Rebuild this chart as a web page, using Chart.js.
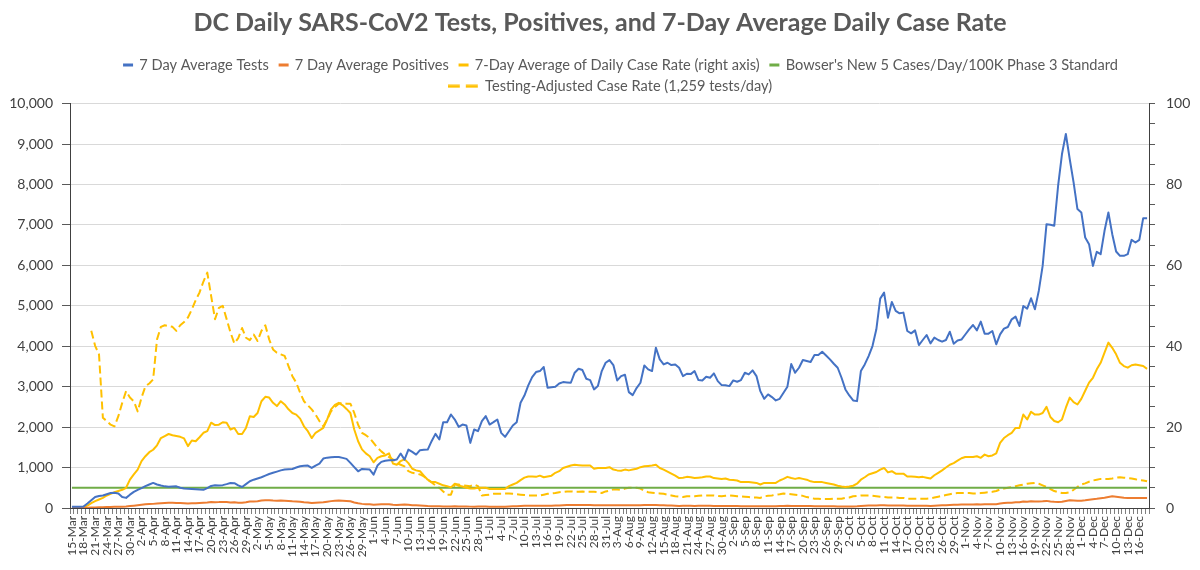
<!DOCTYPE html>
<html>
<head>
<meta charset="utf-8">
<title>DC Daily SARS-CoV2 Tests, Positives, and 7-Day Average Daily Case Rate</title>
<script src="https://cdn.jsdelivr.net/npm/chart.js@4.4.1/dist/chart.umd.min.js"></script>
<style>
    html, body { margin: 0; padding: 0; background: #ffffff; }
    #wrap { width: 1200px; height: 570px; }
</style>
</head>
<body>
<div id="wrap"><canvas id="dcChart" width="1200" height="570"></canvas></div>
<script>
/* =================================================================
   DC daily tests / positives / case rate, 15-Mar .. 18-Dec
   ================================================================= */

// Category labels: one per day, 15-Mar to 18-Dec (only every 3rd is printed)
const monthNames = ['Jan', 'Feb', 'Mar', 'Apr', 'May', 'Jun', 'Jul', 'Aug', 'Sep', 'Oct', 'Nov', 'Dec'];
const dayCount = 279;
const dateLabels = [];
for (let i = 0; i < dayCount; i++) {
    const d = new Date(2020, 2, 15 + i);
    dateLabels.push(d.getDate() + '-' + monthNames[d.getMonth()]);
}

// 7 day average tests (left axis)
const avgTests = [
    30, 30, 30, 35, 110, 190, 270, 295, 310, 340,
    370, 375, 360, 270, 250, 330, 400, 450, 490, 540,
    580, 620, 580, 555, 535, 525, 530, 535, 500, 480,
    475, 470, 465, 455, 450, 490, 545, 560, 555, 565,
    590, 620, 615, 560, 520, 590, 661, 700, 730, 760,
    800, 840, 870, 900, 930, 950, 958, 966, 1000, 1032,
    1045, 1049, 991, 1050, 1098, 1222, 1245, 1255, 1260, 1263,
    1240, 1214, 1115, 1010, 908, 966, 960, 950, 826, 1049,
    1140, 1170, 1181, 1181, 1200, 1346, 1197, 1445, 1387, 1321,
    1429, 1440, 1445, 1652, 1833, 1693, 2122, 2122, 2312, 2188,
    2007, 2064, 2040, 1610, 1941, 1899, 2147, 2271, 2064, 2122,
    2188, 1858, 1759, 1899, 2040, 2122, 2601, 2780, 3031, 3237,
    3361, 3386, 3485, 2973, 2985, 2998, 3080, 3113, 3105, 3097,
    3345, 3444, 3411, 3196, 3163, 2932, 3014, 3386, 3592, 3658,
    3534, 3155, 3262, 3295, 2866, 2791, 2965, 3097, 3526, 3427,
    3386, 3964, 3675, 3551, 3592, 3534, 3551, 3468, 3262, 3320,
    3311, 3386, 3163, 3155, 3245, 3221, 3328, 3138, 3039, 3035,
    3014, 3155, 3122, 3163, 3345, 3303, 3402, 3262, 2890, 2700,
    2808, 2742, 2660, 2700, 2850, 3000, 3560, 3345, 3468, 3658,
    3634, 3609, 3782, 3782, 3865, 3770, 3675, 3567, 3468, 3221,
    2932, 2783, 2659, 2643, 3386, 3551, 3757, 4005, 4418, 5178,
    5326, 4707, 5095, 4872, 4814, 4831, 4377, 4319, 4393, 4030,
    4154, 4278, 4071, 4212, 4154, 4113, 4154, 4360, 4060, 4140,
    4165, 4290, 4418, 4525, 4393, 4608, 4311, 4311, 4377, 4047,
    4294, 4435, 4476, 4666, 4732, 4501, 4996, 4930, 5186, 4914,
    5368, 5987, 7019, 7003, 6978, 7969, 8753, 9249, 8630, 8052,
    7391, 7308, 6689, 6524, 5987, 6334, 6276, 6854, 7308, 6771,
    6342, 6235, 6235, 6276, 6631, 6565, 6631, 7168, 7168
];

// 7 day average positives (left axis)
const avgPositives = [
    2, 3, 4, 5, 7, 10, 13, 16, 19, 22,
    25, 28, 30, 33, 38, 48, 58, 68, 80, 90,
    97, 102, 110, 120, 125, 128, 127, 125, 123, 120,
    110, 117, 118, 124, 130, 134, 148, 145, 146, 150,
    148, 137, 140, 130, 130, 140, 160, 158, 166, 185,
    194, 192, 183, 178, 185, 180, 172, 165, 162, 155,
    142, 134, 122, 130, 135, 140, 155, 170, 180, 183,
    180, 173, 165, 137, 116, 102, 95, 90, 80, 87,
    90, 92, 95, 78, 75, 82, 85, 78, 68, 66,
    64, 56, 49, 45, 45, 42, 40, 38, 36, 42,
    39, 37, 35, 34, 34, 35, 35, 35, 33, 33,
    33, 33, 33, 38, 41, 44, 49, 53, 55, 55,
    54, 56, 54, 55, 56, 61, 64, 70, 72, 74,
    75, 75, 74, 74, 74, 68, 70, 70, 70, 71,
    67, 66, 65, 67, 66, 67, 68, 71, 73, 73,
    74, 75, 70, 67, 63, 60, 56, 52, 53, 54,
    54, 52, 53, 54, 55, 55, 52, 51, 51, 51,
    49, 49, 48, 45, 45, 45, 44, 44, 41, 44,
    44, 44, 44, 48, 51, 54, 52, 51, 52, 51,
    49, 47, 45, 45, 45, 44, 42, 41, 39, 37,
    37, 37, 39, 42, 49, 54, 59, 61, 63, 67,
    70, 62, 64, 60, 60, 60, 55, 55, 54, 54,
    54, 53, 51, 57, 61, 66, 71, 75, 78, 82,
    87, 89, 89, 89, 90, 87, 93, 90, 92, 95,
    113, 122, 127, 131, 140, 140, 163, 154, 168, 163,
    163, 166, 176, 159, 152, 149, 154, 175, 192, 185,
    180, 182, 190, 204, 219, 227, 242, 253, 271, 288,
    279, 268, 253, 247, 245, 249, 250, 249, 247
];

// 7-day average of daily case rate per 100K (right axis)
const caseRate = [
    null, null, null, 0.3, 0.6, 1.2, 1.7, 2.1, 2.5, 3.1,
    3.5, 3.9, 4.2, 4.5, 5.0, 7.0, 8.3, 9.5, 11.6, 12.8,
    13.8, 14.4, 15.5, 17.3, 17.8, 18.3, 18.0, 17.8, 17.6, 17.2,
    15.3, 16.7, 16.5, 17.5, 18.6, 19.0, 21.1, 20.5, 20.6, 21.2,
    21.1, 19.4, 19.8, 18.3, 18.3, 19.8, 22.7, 22.5, 23.5, 26.4,
    27.5, 27.3, 26.0, 25.2, 26.4, 25.6, 24.4, 23.5, 23.1, 22.1,
    20.2, 19.0, 17.3, 18.6, 19.2, 19.8, 21.9, 24.4, 25.5, 26.0,
    25.4, 24.5, 23.5, 19.4, 16.5, 14.5, 13.5, 12.8, 11.3, 12.4,
    12.8, 13.0, 13.5, 11.0, 10.7, 11.6, 12.1, 11.1, 9.7, 9.3,
    9.1, 8.0, 7.0, 6.4, 6.4, 6.0, 5.6, 5.4, 5.1, 6.0,
    5.5, 5.3, 5.0, 4.8, 4.8, 5.0, 5.0, 5.0, 4.7, 4.7,
    4.7, 4.7, 4.7, 5.4, 5.8, 6.2, 6.9, 7.5, 7.8, 7.8,
    7.7, 8.0, 7.6, 7.8, 8.0, 8.7, 9.1, 9.9, 10.2, 10.5,
    10.7, 10.6, 10.5, 10.5, 10.5, 9.7, 9.9, 9.9, 9.9, 10.1,
    9.5, 9.3, 9.2, 9.5, 9.3, 9.5, 9.7, 10.1, 10.3, 10.4,
    10.5, 10.7, 9.9, 9.5, 9.0, 8.5, 8.0, 7.4, 7.5, 7.7,
    7.6, 7.4, 7.5, 7.6, 7.8, 7.8, 7.4, 7.3, 7.2, 7.3,
    7.0, 6.9, 6.8, 6.4, 6.4, 6.4, 6.3, 6.2, 5.8, 6.2,
    6.2, 6.2, 6.2, 6.8, 7.2, 7.7, 7.4, 7.2, 7.4, 7.2,
    7.0, 6.6, 6.4, 6.4, 6.4, 6.2, 6.0, 5.8, 5.5, 5.3,
    5.2, 5.3, 5.5, 6.0, 7.0, 7.6, 8.3, 8.6, 8.9, 9.5,
    9.9, 8.8, 9.1, 8.5, 8.5, 8.5, 7.8, 7.8, 7.7, 7.6,
    7.7, 7.5, 7.3, 8.1, 8.7, 9.3, 10.0, 10.7, 11.1, 11.7,
    12.3, 12.6, 12.6, 12.6, 12.8, 12.4, 13.2, 12.8, 13.0, 13.5,
    16.1, 17.3, 18.0, 18.6, 19.8, 19.8, 23.1, 21.9, 23.8, 23.1,
    23.1, 23.5, 25.0, 22.5, 21.5, 21.2, 21.9, 24.8, 27.3, 26.2,
    25.6, 27.0, 29.0, 31.0, 32.2, 34.3, 35.9, 38.4, 40.9, 39.6,
    38.0, 35.9, 35.1, 34.7, 35.3, 35.5, 35.3, 35.1, 34.4
];

// Testing-adjusted case rate (right axis, dashed)
const adjustedRate = [
    null, null, null, null, null, 43.8, 40.1, 38.0, 22.3, 21.5,
    20.6, 20.2, 22.7, 26.0, 28.9, 27.3, 26.4, 23.9, 27.3, 30.1,
    30.8, 31.8, 41.7, 44.8, 45.2, 45.0, 44.8, 43.8, 45.2, 46.0,
    47.1, 49.1, 51.4, 53.3, 56.0, 58.2, 52.4, 46.7, 49.5, 50.0,
    46.7, 43.4, 40.7, 42.0, 44.5, 42.1, 41.5, 42.9, 41.3, 43.8,
    45.2, 41.7, 39.2, 38.4, 38.0, 37.6, 35.1, 32.6, 31.0, 28.5,
    26.4, 25.4, 24.4, 23.1, 21.5, 20.2, 21.9, 23.9, 25.0, 25.8,
    26.0, 25.8, 25.8, 23.5, 20.6, 18.6, 18.0, 17.3, 16.1, 14.9,
    14.0, 13.2, 12.6, 12.0, 11.1, 10.7, 10.3, 9.1, 8.7, 8.5,
    8.3, 7.8, 7.0, 6.3, 5.6, 5.0, 4.1, 3.3, 3.3, 5.9,
    5.8, 5.6, 5.5, 5.4, 5.8, 5.4, 3.1, 3.2, 3.3, 3.5,
    3.5, 3.5, 3.6, 3.6, 3.5, 3.4, 3.3, 3.2, 3.1, 3.1,
    3.1, 3.1, 3.3, 3.5, 3.6, 3.7, 3.9, 4.0, 4.1, 4.1,
    4.0, 4.0, 4.1, 4.0, 4.0, 4.0, 3.9, 3.7, 4.1, 4.3,
    4.6, 4.6, 4.5, 4.8, 5.0, 5.0, 5.0, 4.8, 4.3, 3.9,
    3.8, 3.7, 3.6, 3.5, 3.3, 3.1, 2.9, 2.8, 2.7, 2.9,
    2.9, 2.9, 3.0, 3.1, 3.1, 3.1, 3.1, 3.0, 2.9, 3.0,
    3.1, 3.0, 2.9, 2.9, 2.8, 2.7, 2.6, 2.6, 2.5, 2.9,
    3.0, 3.1, 3.3, 3.4, 3.6, 3.5, 3.4, 3.3, 3.2, 3.0,
    2.7, 2.5, 2.3, 2.3, 2.2, 2.2, 2.2, 2.3, 2.3, 2.3,
    2.5, 2.6, 2.9, 3.0, 3.1, 3.1, 3.1, 3.0, 2.9, 2.8,
    2.7, 2.6, 2.6, 2.6, 2.5, 2.5, 2.3, 2.3, 2.3, 2.3,
    2.3, 2.3, 2.4, 2.6, 2.8, 3.0, 3.2, 3.4, 3.6, 3.7,
    3.7, 3.7, 3.7, 3.6, 3.6, 3.7, 3.8, 3.9, 4.0, 4.2,
    4.6, 4.8, 5.0, 5.2, 5.4, 5.6, 5.8, 6.0, 6.1, 6.2,
    6.0, 5.6, 5.2, 4.7, 4.2, 3.9, 3.7, 3.7, 3.9, 4.5,
    5.2, 5.8, 6.1, 6.5, 6.8, 7.0, 7.2, 7.2, 7.2, 7.3,
    7.5, 7.6, 7.5, 7.4, 7.3, 7.1, 6.9, 6.8, 6.6
];

// Phase 3 standard: 5 cases/day/100K (right axis)
const phase3Standard = 5;

// Axis tick settings
const leftAxisMax = 10000;
const leftAxisStep = 1000;
const rightAxisMax = 100;
const rightAxisStep = 5;
const rightLabelEvery = 20;

// Colours
const BLUE = '#4472C4';
const ORANGE = '#ED7D31';
const GOLD = '#FFC000';
const GREEN = '#70AD47';
const TEXT_GREY = '#595959';
const AXIS_DARK = '#404040';

const FONT = 'Lato, "Open Sans", "Liberation Sans", sans-serif';

// Small legend keys, like the Excel ones (solid bar, or two dashes)
function legendKey(color, dashed) {
    const c = document.createElement('canvas');
    c.width = dashed ? 48 : 20;
    c.height = 4;
    const g = c.getContext('2d');
    g.fillStyle = color;
    if (dashed) {
        g.fillRect(0, 0.5, 12, 3);
        g.fillRect(18, 0.5, 12, 3);
    } else {
        g.fillRect(7, 0.5, 10, 3);
    }
    return c;
}

// Excel puts the legend block a little right of the canvas middle
const shiftLegend = {
    id: 'shiftLegend',
    afterLayout(chart) {
        const b = chart.legend;
        if (!b) return;
        b.left += 19;
        b.right += 19;
    }
};

function lineSet(label, data, color, axis, extra) {
    return Object.assign({
        label: label,
        data: data,
        yAxisID: axis,
        borderColor: color,
        backgroundColor: color,
        borderWidth: 2,
        pointRadius: 0,
        pointHoverRadius: 0,
        pointStyle: legendKey(color, false),
        tension: 0,
        fill: false,
        borderJoinStyle: 'round',
        spanGaps: false
    }, extra || {});
}

const ctx = document.getElementById('dcChart').getContext('2d');

new Chart(ctx, {
    type: 'line',
    data: {
        labels: dateLabels,
        datasets: [
            lineSet('7 Day Average Tests', avgTests, BLUE, 'y'),
            lineSet('7 Day Average Positives', avgPositives, ORANGE, 'y'),
            lineSet('7-Day Average of Daily Case Rate (right axis)', caseRate, GOLD, 'y2'),
            lineSet("Bowser's New 5 Cases/Day/100K Phase 3 Standard",
                dateLabels.map(() => phase3Standard), GREEN, 'y2'),
            lineSet('Testing-Adjusted Case Rate (1,259 tests/day)', adjustedRate, GOLD, 'y2', {
                borderDash: [8, 4],
                pointStyle: legendKey(GOLD, true)
            })
        ]
    },
    options: {
        responsive: false,
        animation: false,
        devicePixelRatio: 1,
        layout: { padding: 0 },
        plugins: {
            title: {
                display: true,
                text: 'DC Daily SARS-CoV2 Tests, Positives, and 7-Day Average Daily Case Rate',
                color: TEXT_GREY,
                font: { family: FONT, size: 25, weight: 'bold' },
                padding: { top: 8, bottom: 13 }
            },
            legend: {
                display: true,
                position: 'top',
                labels: {
                    usePointStyle: true,
                    pointStyleWidth: 12,
                    padding: 6.7,
                    color: TEXT_GREY,
                    font: { family: FONT, size: 14.6 }
                }
            },
            tooltip: { enabled: false }
        },
        scales: {
            x: {
                type: 'category',
                offset: true,
                grid: {
                    display: true,
                    drawOnChartArea: false,
                    drawTicks: true,
                    tickLength: 6,
                    color: '#7f7f7f',
                    offset: true
                },
                border: { display: true, color: AXIS_DARK, width: 1 },
                ticks: {
                    autoSkip: false,
                    maxRotation: 90,
                    minRotation: 90,
                    padding: 2,
                    color: AXIS_DARK,
                    font: { family: FONT, size: 12 },
                    callback: function (value, index) {
                        return index % 3 === 0 ? this.getLabelForValue(value) : '';
                    }
                },
                afterFit: scale => { scale.height = 62; }
            },
            y: {
                position: 'left',
                min: 0,
                max: leftAxisMax,
                ticks: {
                    stepSize: leftAxisStep,
                    padding: 9,
                    color: AXIS_DARK,
                    font: { family: FONT, size: 14 }
                },
                grid: {
                    color: '#d9d9d9',
                    tickColor: '#595959',
                    tickLength: 8,
                    lineWidth: 1
                },
                border: { display: true, color: AXIS_DARK },
                afterFit: scale => { scale.width = 70; }
            },
            y2: {
                position: 'right',
                min: 0,
                max: rightAxisMax,
                ticks: {
                    stepSize: rightAxisStep,
                    autoSkip: false,
                    padding: 11,
                    color: AXIS_DARK,
                    font: { family: FONT, size: 14 },
                    callback: v => (v % rightLabelEvery === 0 ? v : '')
                },
                grid: {
                    drawOnChartArea: false,
                    tickLength: 6,
                    color: '#595959'
                },
                border: { display: true, color: AXIS_DARK },
                afterFit: scale => { scale.width = 51; }
            }
        }
    },
    plugins: [shiftLegend]
});
</script>
</body>
</html>
